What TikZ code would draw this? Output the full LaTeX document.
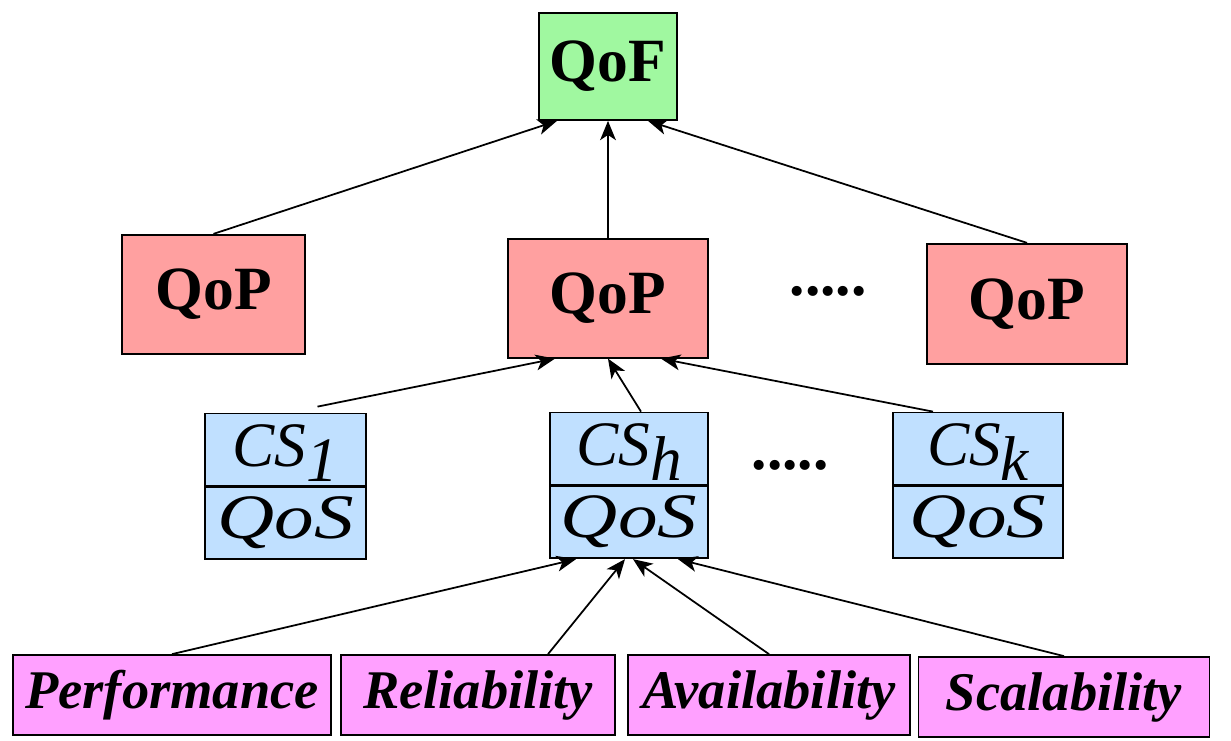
\documentclass[tikz,border=0pt]{standalone}
\usepackage{fontspec}
\setmainfont{Liberation Serif}
\usepackage{tikz}
\usetikzlibrary{arrows.meta,positioning}
\definecolor{qofgreen}{HTML}{A0F8A0}
\definecolor{qoppink}{HTML}{FFA0A0}
\definecolor{csblue}{HTML}{C0E0FF}
\definecolor{attrpink}{HTML}{FFA0FF}
\newcommand{\cslabel}[1]{\textit{CS\raisebox{-0.24em}{#1}}}

\begin{document}
\begin{tikzpicture}[
  every node/.style={draw, line width=1pt, align=center, inner sep=0pt},
  qofbox/.style={fill=qofgreen, minimum width=2.76cm, minimum height=2.14cm, font=\fontsize{35}{40}\selectfont\bfseries},
  qopbox/.style={fill=qoppink, minimum width=4cm, minimum height=2.38cm, font=\fontsize{35}{40}\selectfont\bfseries},
  csbox/.style={fill=csblue, minimum height=1.44cm, text height=1.06cm, text depth=0.38cm, font=\fontsize{36}{40}\selectfont},
  qosbox/.style={fill=csblue, minimum height=1.44cm, text height=1.02cm, text depth=0.42cm, font=\fontsize{36}{40}\selectfont\itshape},
  attrbox/.style={fill=attrpink, minimum height=1.6cm, font=\fontsize{31}{36}\selectfont\bfseries\itshape},
  dots/.style={draw=none, fill=none, font=\fontsize{35}{40}\selectfont\bfseries},
  arr/.style={-{Stealth[length=11pt, width=9pt, inset=3pt]}, line width=1pt}
]
\useasboundingbox (0,0) rectangle (24.62,-14.82);

\node[qofbox] (qof) at (12.16,-1.33) {QoF};

\node[qopbox, below=2.26cm of qof, xshift=-7.89cm, minimum width=3.66cm] (qopl) {QoP};
\node[qopbox, below=2.34cm of qof] (qopm) {QoP};
\node[qopbox, below=2.44cm of qof, xshift=8.38cm, minimum height=2.4cm] (qopr) {QoP};
\node[dots, right=1.6cm of qopm, yshift=0.13cm] (dotsp) {.....};
\draw[arr] (qopl.north) -- ([xshift=-1.02cm]qof.south);
\draw[arr] (qopm.north) -- (qof.south);
\draw[arr] (qopr.north) -- ([xshift=0.8cm]qof.south);

\node[csbox, below=1.08cm of qopm, xshift=-6.45cm, minimum width=3.22cm] (cs1) {\cslabel{1}};
\node[qosbox, below=0pt of cs1, minimum width=3.22cm] (qos1) {\scalebox{1.25}[1]{QoS}};
\node[csbox, below=1.06cm of qopm, xshift=0.42cm, minimum width=3.16cm] (csh) {\cslabel{h}};
\node[qosbox, below=0pt of csh, minimum width=3.16cm] (qosh) {\scalebox{1.25}[1]{QoS}};
\node[csbox, below=1.06cm of qopm, xshift=7.4cm, minimum width=3.4cm] (csk) {\cslabel{k}};
\node[qosbox, below=0pt of csk, minimum width=3.4cm] (qosk) {\scalebox{1.25}[1]{QoS}};
\node[dots, right=0.84cm of csh, yshift=-0.34cm] (dotscs) {.....};
\draw[arr] ([xshift=0.64cm, yshift=0.12cm]cs1.north) -- ([xshift=-1.06cm]qopm.south);
\draw[arr] ([xshift=0.24cm]csh.north) -- (qopm.south);
\draw[arr] ([xshift=-0.9cm]csk.north) -- ([xshift=1.06cm]qopm.south);

\node[attrbox, below=1.9cm of qosh, xshift=-9.14cm, minimum width=6.36cm] (perf) {Performance};
\node[attrbox, below=1.9cm of qosh, xshift=-3.02cm, minimum width=5.48cm] (rel) {Reliability};
\node[attrbox, below=1.9cm of qosh, xshift=2.8cm, minimum width=5.64cm] (avail) {Availability};
\node[attrbox, below=1.94cm of qosh, xshift=8.7cm, minimum width=5.82cm] (scal) {Scalability};
\draw[arr] (perf.north) -- ([xshift=-1.06cm]qosh.south);
\draw[arr] ([xshift=1.4cm]rel.north) -- ([xshift=-0.08cm]qosh.south);
\draw[arr] (avail.north) -- ([xshift=0.08cm]qosh.south);
\draw[arr] (scal.north) -- ([xshift=0.98cm]qosh.south);
\end{tikzpicture}
\end{document}
